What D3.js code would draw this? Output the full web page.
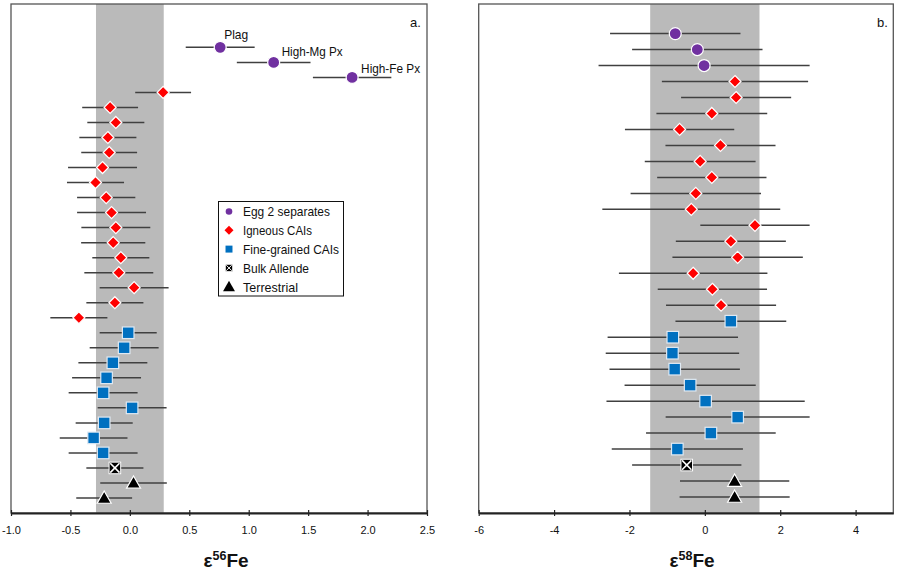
<!DOCTYPE html>
<html><head><meta charset="utf-8">
<script src="https://cdn.jsdelivr.net/npm/d3@7"></script>
<style>body{margin:0;background:#fff}svg{display:block}text{font-family:"Liberation Sans",Arial,sans-serif}</style>
</head><body><svg id="c" width="897" height="573"></svg>
<script>
// ---- Panel a: epsilon 56Fe ----
const eggLabels = ["Plag", "High-Mg Px", "High-Fe Px"];
const egg56 = [0.76, 1.21, 1.87];
const egg56Err = [0.29, 0.31, 0.33];
const ign56 = [0.28, -0.166, -0.118, -0.185, -0.174, -0.23, -0.289, -0.199, -0.154, -0.118, -0.14, -0.076, -0.093, 0.036, -0.126, -0.429];
const ign56Err = [0.235, 0.235, 0.24, 0.24, 0.235, 0.29, 0.24, 0.245, 0.29, 0.29, 0.27, 0.24, 0.29, 0.29, 0.24, 0.24];
const fine56 = [-0.014, -0.048, -0.143, -0.196, -0.225, 0.019, -0.216, -0.305, -0.225];
const fine56Err = [0.24, 0.29, 0.29, 0.29, 0.29, 0.29, 0.24, 0.285, 0.29];
const bulk56 = [-0.126];
const bulk56Err = [0.24];
const terr56 = [0.031, -0.216];
const terr56Err = [0.28, 0.235];
const band56 = [-0.285, 0.285];
const ticks56 = [-1.0, -0.5, 0.0, 0.5, 1.0, 1.5, 2.0, 2.5];

// ---- Panel b: epsilon 58Fe ----
const egg58 = [-0.785, -0.20, -0.02];
const egg58Err = [1.73, 1.73, 2.80];
const ign58 = [0.80, 0.83, 0.185, -0.67, 0.415, -0.124, 0.185, -0.24, -0.36, 1.33, 0.69, 0.87, -0.31, 0.20, 0.43];
const ign58Err = [1.94, 1.46, 1.47, 1.45, 1.46, 1.47, 1.45, 1.73, 2.36, 1.45, 1.46, 1.73, 1.97, 1.45, 1.46];
const fine58 = [0.69, -0.85, -0.86, -0.80, -0.39, 0.02, 0.87, 0.16, -0.73];
const fine58Err = [1.47, 1.73, 1.77, 1.73, 1.74, 2.63, 1.91, 1.72, 1.74];
const bulk58 = [-0.48];
const bulk58Err = [1.45];
const terr58 = [0.79, 0.79];
const terr58Err = [1.45, 1.46];
const band58 = [-1.45, 1.45];
const ticks58 = [-6, -4, -2, 0, 2, 4];

const legendItems = ["Egg 2 separates", "Igneous CAIs", "Fine-grained CAIs", "Bulk Allende", "Terrestrial"];
const kinds = ["egg", "ign", "fine", "bulk", "terr"];

const svg = d3.select("#c");
const COL = {egg: "#7030A0", ign: "#FF0000", fine: "#0070C0", bulk: "#000", terr: "#000"};

function buildRows(sets) {
  const rows = [];
  sets.forEach(([kind, vals, errs]) => vals.forEach((v, i) => rows.push({kind, v, e: errs[i], idx: i})));
  const n = rows.length;
  rows.forEach((r, i) => r.pos = n - i);
  return rows;
}

function marker(g, kind, cx, cy, s) {
  if (kind === "egg") {
    g.append("circle").attr("cx", cx).attr("cy", cy).attr("r", 6 * s)
      .attr("fill", COL.egg).attr("stroke", "#fff").attr("stroke-width", s < 1 ? 0 : 1.2);
  } else if (kind === "ign") {
    const d = 6 * s;
    g.append("path").attr("d", `M${cx},${cy - d}L${cx + d},${cy}L${cx},${cy + d}L${cx - d},${cy}Z`)
      .attr("fill", COL.ign).attr("stroke", "#fff").attr("stroke-width", s < 1 ? 0 : 1.2);
  } else if (kind === "fine") {
    const h = 5.8 * s;
    g.append("rect").attr("x", cx - h).attr("y", cy - h).attr("width", 2 * h).attr("height", 2 * h)
      .attr("fill", COL.fine).attr("stroke", "#dfe9f3").attr("stroke-width", s < 1 ? 0 : 1.2);
  } else if (kind === "bulk") {
    const h = 5.8 * s;
    g.append("rect").attr("x", cx - h).attr("y", cy - h).attr("width", 2 * h).attr("height", 2 * h)
      .attr("fill", "#000").attr("stroke", "#fff").attr("stroke-width", s < 1 ? 0.6 : 1);
    const k = h * 0.8;
    g.append("path").attr("d", `M${cx - k},${cy - k}L${cx + k},${cy + k}M${cx + k},${cy - k}L${cx - k},${cy + k}`)
      .attr("stroke", "#fff").attr("stroke-width", s < 1 ? 1 : 1.6);
  } else if (kind === "terr") {
    const h = 7 * s;
    g.append("path").attr("d", `M${cx},${cy - h}L${cx + h},${cy + h * 0.75}L${cx - h},${cy + h * 0.75}Z`)
      .attr("fill", "#000").attr("stroke", "#fff").attr("stroke-width", s < 1 ? 0 : 1.2);
  }
}

function panel(opts) {
  const {x0, x1, top, bottom, domain, yMax, rows, band, ticks, fmt, label, tag, titleX, tagX} = opts;
  const x = d3.scaleLinear().domain(domain).range([x0, x1]);
  const y = d3.scaleLinear().domain([0, yMax]).range([bottom, opts.yTop]);
  const g = svg.append("g");
  g.append("rect").attr("x", x(band[0])).attr("y", top).attr("width", x(band[1]) - x(band[0]))
    .attr("height", bottom - top).attr("fill", "#BABABA");
  g.append("rect").attr("x", x0).attr("y", top).attr("width", x1 - x0).attr("height", bottom - top)
    .attr("fill", "none").attr("stroke", "#555").attr("stroke-width", 1.3);
  g.selectAll(".eb").data(rows).join("line").attr("class", "eb")
    .attr("x1", d => x(d.v - d.e)).attr("x2", d => x(d.v + d.e))
    .attr("y1", d => y(d.pos)).attr("y2", d => y(d.pos))
    .attr("stroke", "#404040").attr("stroke-width", 1.5);
  rows.forEach(d => marker(g, d.kind, x(d.v), y(d.pos), 1));
  const ax = g.append("g").attr("transform", `translate(0,${bottom})`)
    .call(d3.axisBottom(x).tickValues(ticks).tickFormat(d => fmt(d).replace("\u2212", "-"))
      .tickSize(3).tickSizeOuter(0).tickPadding(10));
  ax.select(".domain").attr("stroke", "#222").attr("stroke-width", 1.8);
  ax.selectAll(".tick line").attr("y1", -3).attr("y2", 3).attr("stroke", "#222").attr("stroke-width", 1.2);
  ax.selectAll(".tick text").attr("font-size", 11).attr("fill", "#111")
    .attr("font-family", "'Liberation Sans', Arial, sans-serif");
  const t = g.append("text").attr("x", titleX).attr("y", 567).attr("text-anchor", "middle")
    .attr("font-weight", "bold").attr("font-size", 19).attr("fill", "#111");
  t.append("tspan").text("ε");
  t.append("tspan").attr("font-size", 12.5).attr("dy", -7).text(label);
  t.append("tspan").attr("dy", 7).text("Fe");
  g.append("text").attr("x", tagX).attr("y", 27).attr("font-size", 13).attr("fill", "#111").text(tag);
  return {x, y, g};
}

const rowsA = buildRows([["egg", egg56, egg56Err], ["ign", ign56, ign56Err], ["fine", fine56, fine56Err], ["bulk", bulk56, bulk56Err], ["terr", terr56, terr56Err]]);
const rowsB = buildRows([["egg", egg58, egg58Err], ["ign", ign58, ign58Err], ["fine", fine58, fine58Err], ["bulk", bulk58, bulk58Err], ["terr", terr58, terr58Err]]);

const A = panel({x0: 11, x1: 427, top: 4, bottom: 513, domain: [-1, 2.5], yMax: 34, yTop: 2.3, rows: rowsA,
  band: band56, ticks: ticks56, fmt: d3.format(".1f"), label: "56", tag: "a.", titleX: 226, tagX: 410});
const B = panel({x0: 478.7, x1: 893.3, top: 4, bottom: 513, domain: [-6, 5], yMax: 32, yTop: 1.6, rows: rowsB,
  band: band58, ticks: ticks58, fmt: d3.format("d"), label: "58", tag: "b.", titleX: 692, tagX: 877});

// sample labels in panel a
const eggRows = rowsA.filter(r => r.kind === "egg");
const labelOffsets = [[4, -8.4], [8, -6.3], [9, -4.3]];
const labelWidths = [24, 61, 59];
eggRows.forEach((r, i) => {
  A.g.append("text").attr("x", A.x(r.v) + labelOffsets[i][0]).attr("y", A.y(r.pos) + labelOffsets[i][1])
    .attr("font-size", 13).attr("fill", "#111")
    .attr("textLength", labelWidths[i]).attr("lengthAdjust", "spacingAndGlyphs").text(eggLabels[i]);
});

// legend
const lg = svg.append("g");
lg.append("rect").attr("x", 218.5).attr("y", 201.5).attr("width", 125).attr("height", 94.5)
  .attr("fill", "#fff").attr("stroke", "#111").attr("stroke-width", 1);
const legScale = {egg: 0.55, ign: 0.75, fine: 0.6, bulk: 0.6, terr: 0.85};
const legWidths = [87, 69, 96, 66, 55];
legendItems.forEach((name, i) => {
  const cy = 211.5 + i * 18.8;
  marker(lg, kinds[i], 229, cy, legScale[kinds[i]]);
  lg.append("text").attr("x", 243).attr("y", cy + 4.8).attr("font-size", 13.5).attr("fill", "#111")
    .attr("textLength", legWidths[i]).attr("lengthAdjust", "spacingAndGlyphs").text(name);
});
</script></body></html>
